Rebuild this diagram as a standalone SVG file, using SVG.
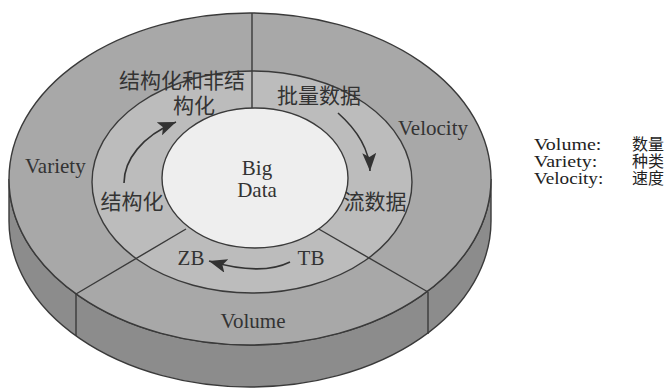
<svg xmlns="http://www.w3.org/2000/svg" width="667" height="388" viewBox="0 0 667 388">
<style>
.ln{stroke:#3a3a3a;stroke-width:1.4;fill:none}
.en{font-family:"Liberation Serif","DejaVu Serif",serif;font-size:21px;fill:#333}
.cn{font-family:"Liberation Serif","Noto Sans CJK SC",serif;font-size:21px;fill:#333}
.lg{font-family:"Liberation Serif","Noto Sans CJK SC",serif;font-size:16px;fill:#222}
.arr{stroke:#333;stroke-width:1.6;fill:none}
</style>
<defs>
<marker id="ah" markerUnits="userSpaceOnUse" markerWidth="20" markerHeight="14" refX="18" refY="7" orient="auto">
<path d="M0,0 L18,7 L0,14 L4,7 Z" fill="#333"/>
</marker>
</defs>
<rect width="667" height="388" fill="#ffffff"/>
<g id="disk">
<path d="M9,179 A241,166 0 0 0 491,179 L491,221 A241,166 0 0 1 9,221 Z" fill="#8c8c8c" stroke="#3a3a3a" stroke-width="1.4"/>
<ellipse cx="250" cy="179" rx="241" ry="166" fill="#a8a8a8" stroke="#3a3a3a" stroke-width="1.4"/>
<line class="ln" x1="76" y1="294" x2="76" y2="336"/>
<line class="ln" x1="428" y1="292" x2="428" y2="334"/>
</g>
<g id="middle-ring">
<ellipse cx="252" cy="182" rx="160" ry="111" fill="#bcbcbc" stroke="#3a3a3a" stroke-width="1.4"/>
</g>
<g id="dividers">
<line class="ln" x1="252" y1="13" x2="252" y2="108"/>
<line class="ln" x1="186" y1="229" x2="76" y2="294"/>
<line class="ln" x1="317" y1="228" x2="428" y2="292"/>
</g>
<g id="big-data">
<ellipse cx="255" cy="178" rx="93" ry="70" fill="#eeeeee" stroke="#3a3a3a" stroke-width="1.4"/>
<text class="en" x="257" y="175" text-anchor="middle" font-size="22">Big</text>
<text class="en" x="257" y="197" text-anchor="middle" font-size="22">Data</text>
</g>
<g id="variety">
<text class="en" x="25" y="173">Variety</text>
<text class="cn" x="182" y="88" text-anchor="middle">结构化和非结</text>
<text class="cn" x="194" y="113" text-anchor="middle">构化</text>
<text class="cn" x="132" y="209" text-anchor="middle">结构化</text>
</g>
<g id="velocity">
<text class="en" x="398" y="135">Velocity</text>
<text class="cn" x="319" y="103" text-anchor="middle">批量数据</text>
<text class="cn" x="375" y="209" text-anchor="middle">流数据</text>
</g>
<g id="volume">
<text class="en" x="253" y="328" text-anchor="middle">Volume</text>
<text class="en" x="191" y="265" text-anchor="middle">ZB</text>
<text class="en" x="311" y="265" text-anchor="middle">TB</text>
</g>
<g id="connectors">
<path class="arr" d="M124,183 C124,160 142,136 176,122" marker-end="url(#ah)"/>
<path class="arr" d="M338,113 C355,128 369,146 370,171" marker-end="url(#ah)"/>
<path class="arr" d="M290,262 C268,273 240,270 209,261" marker-end="url(#ah)"/>
</g>
<g id="legend">
<text class="lg" transform="translate(534,150) scale(1.25,1)">Volume:</text>
<text class="lg" x="664" y="150" text-anchor="end" font-size="17">数量</text>
<text class="lg" transform="translate(534,167) scale(1.25,1)">Variety:</text>
<text class="lg" x="664" y="167" text-anchor="end" font-size="17">种类</text>
<text class="lg" transform="translate(534,184) scale(1.2,1)">Velocity:</text>
<text class="lg" x="664" y="184" text-anchor="end" font-size="17">速度</text>
</g>
</svg>
